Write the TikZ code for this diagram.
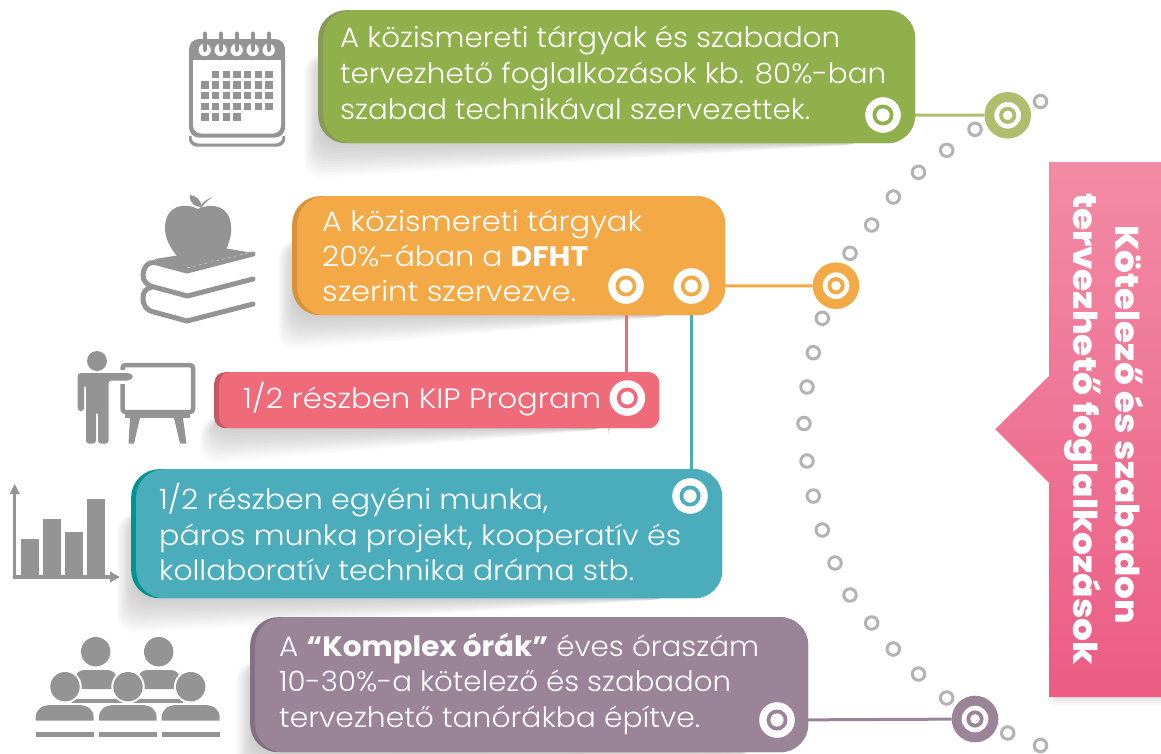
\documentclass[tikz,border=0pt]{standalone}
\usepackage{fontspec}
\setmainfont{Poppins}[UprightFont=* Light,BoldFont=* Bold]
\newfontfamily\sidefont{Poppins ExtraBold}
\pgfdeclarelayer{bg}
\pgfsetlayers{bg,main}
\definecolor{greenL}{HTML}{8FB04A}\definecolor{greenD}{HTML}{879A58}\definecolor{greenC}{HTML}{AFBD6D}
\definecolor{orangeL}{HTML}{F4A947}\definecolor{orangeD}{HTML}{D8923A}
\definecolor{redL}{HTML}{F06B7A}\definecolor{redD}{HTML}{C25A66}
\definecolor{tealL}{HTML}{4BADBB}\definecolor{tealD}{HTML}{009490}
\definecolor{purpL}{HTML}{9B8398}\definecolor{purpD}{HTML}{857083}
\definecolor{pinkT}{HTML}{F28BA5}\definecolor{pinkB}{HTML}{EC5C84}
\definecolor{icon}{HTML}{949494}\definecolor{dotc}{HTML}{B3B3B3}
\tikzset{
  x=1pt,y=-1pt,
  panel/.style={rectangle,inner sep=0pt,anchor=north west,draw=none},
  lbl/.style={anchor=base west,inner sep=0pt,text=white,font=\fontsize{28}{28}\selectfont},
  side/.style={anchor=base,inner sep=0pt,text=white,rotate=-90,font=\fontsize{33}{33}\selectfont\sidefont},
  tgt/.style={circle,fill=white,minimum size=35.6pt,inner sep=0pt},
  bigc/.style={circle,minimum size=46.6pt,inner sep=0pt},
  dotn/.style={circle,draw=dotc,line width=3pt,fill=white,minimum size=12.5pt,inner sep=0pt},
  conn/.style={line width=3pt}
}
\newcommand{\fl}[2]{\resizebox{#1pt}{\height}{#2}}
\newcommand{\softsh}[4]{%
  \begin{pgfonlayer}{bg}
  \foreach \i in {0,...,13}{
    \fill[black,opacity=.014,rounded corners=18pt]
      ({#1-14+\i*1.3},{#2+45}) -- ({#1-14+\i*1.3},{#4+36-\i*2.8}) -- ({#3-50},{#4+1}) -- ({#3-50},{#2+45}) -- cycle;
  }
  \end{pgfonlayer}}
\newcommand{\mypanel}[8]{%
  \softsh{#2}{#3}{#4}{#5}
  \node[panel,fill=#8,rounded corners=#6pt,minimum width={(#4-#2)*1pt},minimum height={(#5-#3)*1pt}] (#1base) at (#2,#3) {};
  \node[panel,fill=#7,rounded corners=#6pt,minimum width={(#4-#2-5)*1pt},minimum height={(#5-#3)*1pt}] (#1) at ({#2+5},#3) {};}
\newcommand{\target}[4]{%
  \node[tgt] (#1) at (#2,#3) {};
  \fill[#4] (#1.center) circle (10.5);
  \fill[white] (#1.center) circle (6.6);}
\newcommand{\hubcirc}[4]{%
  \node[bigc,fill=#4] (#1) at (#2,#3) {};
  \fill[white] (#1.center) circle (13.3);
  \fill[#4] (#1.center) circle (8.6);
  \fill[white] (#1.center) circle (4.8);}
\begin{document}
\begin{tikzpicture}
\useasboundingbox (0,0) rectangle (1161,753);
% dots
\foreach \n/\x/\y in {a/1040.5/101.5,b/975/129.3,c/946.7/150.3,d/918.5/172.3,e/893.3/197,f/871.7/225,g/850/253.3,h/822.3/318.3,i/813.3/352.7,j/807/387,k/804/423.5,l/807/461,m/813.3/496,n/822.3/530,o/835/563,p/850/595,q/871.7/623,r/893.3/649,s/918.5/674,t/946.7/698,u/1007.7/733,v/1040.5/745.5}
  \node[dotn] (dot\n) at (\x,\y) {};
% panels
\mypanel{gbox}{318}{10}{915}{143}{28}{greenL}{greenD}
\mypanel{obox}{292}{196}{725}{315}{28}{orangeL}{orangeD}
\mypanel{rbox}{214}{372}{659}{428}{11}{redL}{redD}
\mypanel{tbox}{131}{469}{722}{598}{28}{tealL}{tealD}
\mypanel{pbox}{250}{617}{808}{752}{28}{purpL}{purpD}
% targets
\target{tg}{883}{115}{greenL}
\target{to1}{626}{286}{orangeL}
\target{to2}{691.3}{286}{orangeL}
\target{tr}{627.3}{398}{redL}
\target{tt}{690}{496}{tealL}
\target{tp}{777}{720}{purpL}
% big circles
\hubcirc{bg}{1007.7}{115.3}{greenC}
\hubcirc{bo}{836}{285.7}{orangeL}
\hubcirc{bp}{975}{719}{purpL}
% connectors
\begin{pgfonlayer}{bg}
\draw[conn,greenC] (tg) -- (bg);
\draw[conn,orangeL] (to2) -- (bo);
\draw[conn,redL] (to1) -- (to1 |- rbox.north);
\draw[conn,tealL] (to2) -- (to2 |- tbox.north);
\draw[conn,purpL] (tp) -- (bp);
\end{pgfonlayer}
% texts
\node[lbl] (g1) at (340,47) {\fl{500}{A közismereti tárgyak és szabadon}};
\node[lbl] (g2) at (340,83) {\fl{546}{tervezhető foglalkozások kb. 80\%-ban}};
\node[lbl] (g3) at (340,119) {\fl{470}{szabad technikával szervezettek.}};
\node[lbl] (o1) at (322,231) {\fl{320}{A közismereti tárgyak}};
\node[lbl] (o2) at (322,266) {\fl{266}{20\%-ában a \textbf{DFHT}}};
\node[lbl] (o3) at (322,301) {\fl{254}{szerint szervezve.}};
\node[lbl] (r1) at (243,408) {\fl{358}{1/2 részben KIP Program}};
\node[lbl] (t1) at (159,509) {\fl{389}{1/2 részben egyéni munka,}};
\node[lbl] (t2) at (159,545) {\fl{522}{páros munka projekt, kooperatív és}};
\node[lbl] (t3) at (159,580) {\fl{475}{kollaboratív technika dráma stb.}};
\node[lbl] (p1) at (279,656) {\fl{480}{A \textbf{“Komplex órák”} éves óraszám}};
\node[lbl] (p2) at (279,691) {\fl{452}{10-30\%-a kötelező és szabadon}};
\node[lbl] (p3) at (279,727) {\fl{421}{tervezhető tanórákba építve.}};
% pink callout
\begin{pgfonlayer}{bg}
\foreach \i in {0,...,7}{
  \fill[black,opacity=.012] (1046+\i,486) -- (1049+\i,{706-\i}) -- (1161,{706-\i}) -- (1161,480) -- cycle;}
\end{pgfonlayer}
\shade[top color=pinkT,bottom color=pinkB] (1049,162) -- (1161,162) -- (1161,697) -- (1049,697) -- (1049,483) -- (995.3,429.3) -- (1049,376) -- cycle;
\node[side] (s1) at (1115,424.5) {\fl{399}{Kötelező és szabadon}};
\node[side] (s2) at (1073,429) {\fl{472}{tervezhető foglalkozások}};
% calendar
\begin{scope}[icon]
\fill[rounded corners=3pt] (189,125) -- (189,137) .. controls (189,143) and (193,146.5) .. (199,146.5) -- (275,146.5) .. controls (281,146.5) and (285,143) .. (285,137) -- (285,125) -- cycle;
\fill[white] (189,125) rectangle (285,136);
\fill[white] (191.5,130) -- (282.5,130) -- (282.5,137) .. controls (282.5,141) and (279,143.5) .. (275,143.5) -- (199,143.5) .. controls (195,143.5) and (191.5,141) .. (191.5,137) -- cycle;
\fill[rounded corners=10pt] (189,39) rectangle (285,137.5);
\fill[white,rounded corners=8pt] (193,60) -- (281,60) -- (281,133.5) -- (193,133.5) -- cycle;
\fill[white] (193,60) rectangle (281,70);
\foreach \x in {204.7,220.7,236.7,252.7,268.7}{
  \fill[white] (\x,50) circle (6.2);
  \draw[line width=4pt,line cap=round] (\x,33.5) -- (\x,50);
}
\foreach \c in {1,...,6}\fill ({201.3+\c*10.67},70.7) rectangle +(7.3,7.3);
\foreach \r in {1,2,3}\foreach \c in {0,...,6}\fill ({201.3+\c*10.67},{70.7+\r*10.67}) rectangle +(7.3,7.3);
\foreach \c in {0,...,3}\fill ({201.3+\c*10.67},113.4) rectangle +(7.3,7.3);
% apple and books
\fill (198,209) .. controls (185,202) and (165,205) .. (165,228) .. controls (165,240) and (172,250) .. (177,256) -- (226,250) .. controls (230,240) and (232,234) .. (231,226) .. controls (230,206) and (212,202) .. (198,209) -- cycle;
\fill (190,195) .. controls (196,196) and (201,199) .. (201.5,207) .. controls (196,207) and (189,204) .. (190,195) -- cycle;
\fill (200,207) .. controls (203,202) and (207,199) .. (212.5,197) .. controls (208,200) and (205,203) .. (201,208) -- cycle;
\fill[line join=round] (155,259) -- (224,248) -- (253,253) -- (187,270) -- (157,263) -- cycle;
\draw[line width=5pt,line cap=round,line join=round] (253,254) -- (187,271) -- (157,263) .. controls (147,260.5) and (143,269) .. (143,275) .. controls (143,281) and (147,285) .. (152,286.5) -- (187.5,296) -- (253,279);
\draw[line width=5pt,line cap=round,line join=round] (152,287) .. controls (146,288) and (143,292) .. (143,298) .. controls (143,306) and (147,310) .. (152,311.5) -- (187,321) -- (253,304);
\draw[white!65!icon,dashed,line width=.4pt] (187,268) -- (252,252);
% presenter
\fill (97,361) circle (10);
\draw[line width=4.5pt,rounded corners=3pt] (122.5,365) rectangle (193,412);
\fill (125,412) rectangle (190,418);
\fill (130,418) -- (140,418) -- (134,443.5) -- (128.5,443.5) -- cycle;
\fill (174,418) -- (183,418) -- (186.5,443.5) -- (180,443.5) -- cycle;
\fill[white] (117,370) rectangle (126,384);
\fill[rounded corners=3pt] (77.7,411) -- (77.7,373) -- (130,373) -- (134,376.5) -- (130,380.5) -- (108.5,380.5) -- (108.5,443.5) -- (98,443.5) -- (98,412) -- (96,412) -- (96,443.5) -- (86,443.5) -- (86,385) -- (84,385) -- (84,411) -- cycle;
% chart
\draw[line width=3.5pt] (14.7,578.5) -- (14.7,490);
\fill (9.7,494) -- (14.7,484) -- (19.9,494) -- cycle;
\draw[line width=3.5pt] (13,577) -- (112,577);
\fill (110,571.5) -- (119.7,577) -- (110,582.5) -- cycle;
\fill (21.3,539) rectangle (39.3,575.5);
\fill (43,519.3) rectangle (61,575.5);
\fill (64.7,531.7) rectangle (83,575.5);
\fill (86.7,498.7) rectangle (104.7,575.5);
% people
\fill (95.7,651.7) circle (14.7);
\fill (158.7,651.7) circle (14.7);
\fill[rounded corners=9pt] (75,689) -- (75,670) -- (116.7,670) -- (116.7,689) -- cycle;
\fill (75,679) rectangle (116.7,689);
\fill[rounded corners=9pt] (138,689) -- (138,670) -- (180,670) -- (180,689) -- cycle;
\fill (138,679) rectangle (180,689);
\fill (72,699) rectangle (183,703);
\foreach \x in {65,128,190.7}{
  \fill[white] (\x,686.7) circle (16.7);
  \fill (\x,686.7) circle (14.7);
}
\foreach \x/\w in {35.7/58,99/57.7,161.7/58}{
  \fill (\x,720.7) -- (\x,718) .. controls (\x,709) and ({\x+6},705) .. ({\x+16},705) -- ({\x+\w-16},705) .. controls ({\x+\w-6},705) and ({\x+\w},709) .. ({\x+\w},718) -- ({\x+\w},720.7) -- cycle;
  \fill (\x,732) rectangle ({\x+\w},736.7);
}
\end{scope}
\end{tikzpicture}
\end{document}
